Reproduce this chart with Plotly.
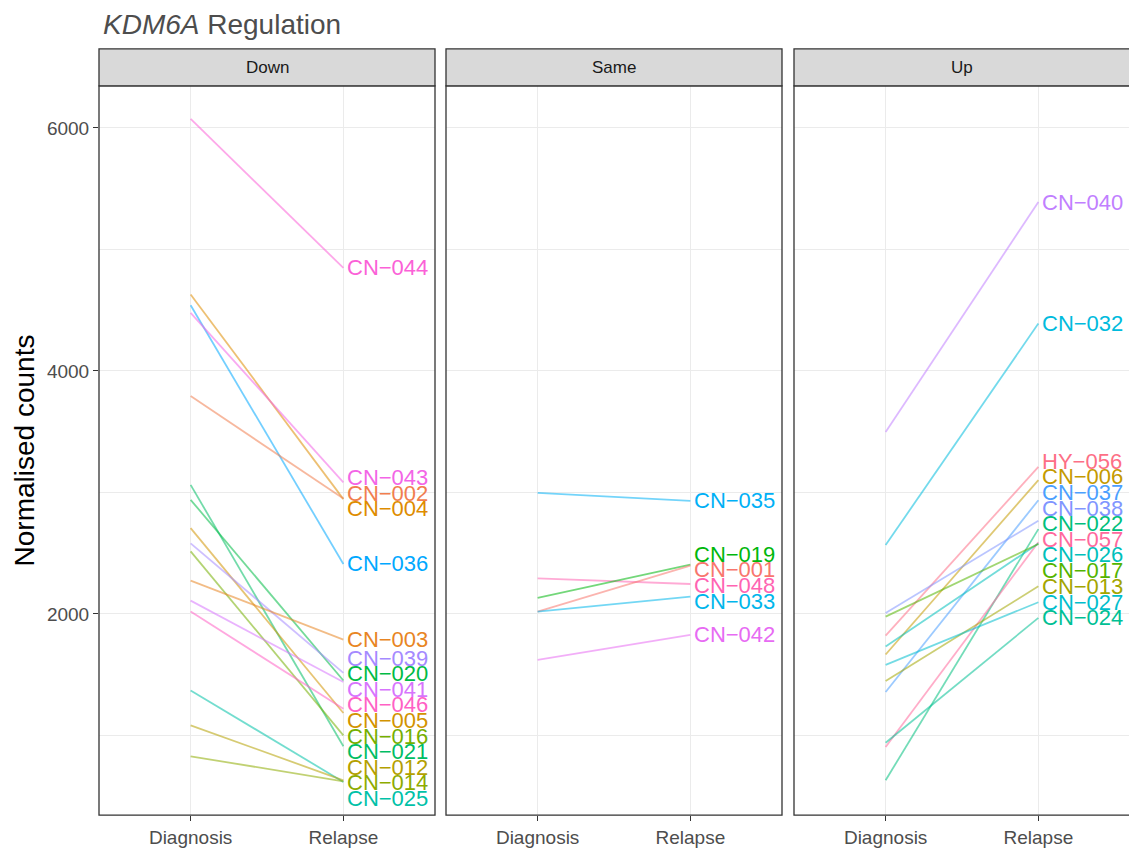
import math
import plotly.graph_objects as go

# ---------------- data ----------------
timepoints = ["Diagnosis", "Relapse"]
panels = ["Down", "Same", "Up"]

down_ids = ["CN-044", "CN-004", "CN-036", "CN-043", "CN-002", "CN-021", "CN-020", "CN-005",
            "CN-039", "CN-016", "CN-003", "CN-041", "CN-046", "CN-025", "CN-012", "CN-014"]
down_diag = [6074, 4629, 4541, 4478, 3793, 3062, 2939, 2706, 2581, 2515, 2274, 2109, 2019, 1370, 1083, 828]
down_relapse = [4848, 2945, 2411, 3082, 2950, 910, 1452, 1184, 1515, 1000, 1789, 1439, 1220, 617, 630, 622]

same_ids = ["CN-035", "CN-048", "CN-019", "CN-001", "CN-033", "CN-042"]
same_diag = [2996, 2293, 2131, 2019, 2019, 1622]
same_relapse = [2931, 2246, 2405, 2397, 2142, 1828]

up_ids = ["CN-040", "CN-032", "HY-056", "CN-006", "CN-037", "CN-038", "CN-022", "CN-057",
          "CN-026", "CN-017", "CN-013", "CN-027", "CN-024"]
up_diag = [3498, 2567, 1822, 1666, 1357, 2008, 631, 905, 1731, 1978, 1447, 1581, 940]
up_relapse = [5390, 4390, 3210, 3101, 2936, 2767, 2698, 2590, 2580, 2575, 2227, 2096, 1967]

y_ticks = [2000, 4000, 6000]
title_italic = "KDM6A"
title_rest = " Regulation"
y_title = "Normalised counts"

# ---------------- colours (ggplot2 hue palette) ----------------
def hcl_hex(h, c=100.0, l=65.0):
    hr = math.radians(h)
    u, v = c * math.cos(hr), c * math.sin(hr)
    Xn, Yn, Zn = 95.047, 100.0, 108.883
    Y = Yn * (((l + 16) / 116) ** 3 if l > 8 else l / 903.3)
    den = Xn + 15 * Yn + 3 * Zn
    un, vn = 4 * Xn / den, 9 * Yn / den
    up = u / (13 * l) + un
    vp = v / (13 * l) + vn
    X = 9.0 * Y * up / (4 * vp)
    Z = Y * (12 - 3 * up - 20 * vp) / (4 * vp)
    X, Y, Z = X / 100, Y / 100, Z / 100
    rl = 3.240479 * X - 1.537150 * Y - 0.498535 * Z
    gl = -0.969256 * X + 1.875992 * Y + 0.041556 * Z
    bl = 0.055648 * X - 0.204043 * Y + 1.057311 * Z

    def gam(t):
        t = 12.92 * t if t <= 0.0031308 else 1.055 * t ** (1 / 2.4) - 0.055
        return max(0, min(255, round(t * 255)))
    return "#%02X%02X%02X" % (gam(rl), gam(gl), gam(bl))

all_ids = sorted(down_ids + same_ids + up_ids)
n_lv = len(all_ids)
color_of = {s: hcl_hex(15 + 360 * i / n_lv) for i, s in enumerate(all_ids)}


def rgba(hexc, a):
    r, g, b = int(hexc[1:3], 16), int(hexc[3:5], 16), int(hexc[5:7], 16)
    return f"rgba({r},{g},{b},{a})"


def repel(vals, gap):
    n = len(vals)
    order = sorted(range(n), key=lambda i: vals[i])
    clusters = [[i] for i in order]

    def start(cl):
        m = sum(vals[i] for i in cl) / len(cl)
        return m - gap * (len(cl) - 1) / 2

    merged = True
    while merged:
        merged = False
        for k in range(len(clusters) - 1):
            a, b = clusters[k], clusters[k + 1]
            if start(b) - (start(a) + gap * (len(a) - 1)) < gap:
                clusters[k] = a + b
                del clusters[k + 1]
                merged = True
                break
    out = [0.0] * n
    for cl in clusters:
        s = start(cl)
        for j, i in enumerate(cl):
            out[i] = s + j * gap
    return out


# ---------------- figure ----------------
W, H = 1129, 848
panel_px = [(99, 435), (446, 782), (794, 1130)]
top_px, bot_px = 86, 817
strip_top = 49

fig = go.Figure()
groups = [(down_ids, down_diag, down_relapse),
          (same_ids, same_diag, same_relapse),
          (up_ids, up_diag, up_relapse)]

all_vals = down_diag + down_relapse + same_diag + same_relapse + up_diag + up_relapse
vmin, vmax = min(all_vals), max(all_vals)
pad = 0.05 * (vmax - vmin)
y_range = [vmin - pad, vmax + pad]

label_font = "Liberation Sans, Arial, Helvetica, sans-serif"
gap_units = 128

annotations = []
for p, (ids, dg, rl) in enumerate(groups):
    xa = "x" if p == 0 else f"x{p + 1}"
    ya = "y" if p == 0 else f"y{p + 1}"
    for s, a, b in zip(ids, dg, rl):
        fig.add_trace(go.Scatter(
            x=timepoints, y=[a, b], mode="lines", xaxis=xa, yaxis=ya,
            line=dict(color=rgba(color_of[s], 0.55), width=1.8),
            showlegend=False, hoverinfo="skip"))
    ly = repel(rl, gap_units)
    for s, yv in zip(ids, ly):
        annotations.append(dict(
            text=s.replace("-", "\u2212"), x=timepoints[1], y=yv, xref=xa, yref=ya,
            xanchor="left", yanchor="middle", xshift=2, showarrow=False,
            font=dict(size=22, family=label_font, color=color_of[s])))

layout = dict(
    width=W, height=H, margin=dict(l=0, r=0, t=0, b=0),
    paper_bgcolor="white", plot_bgcolor="white",
    font=dict(family=label_font),
    showlegend=False,
)

ydom = [(H - bot_px) / H, (H - top_px) / H]
shapes = []
for p in range(3):
    x0, x1 = panel_px[p]
    sfx = "" if p == 0 else str(p + 1)
    dom = [x0 / W, min(1.0, x1 / W)]
    layout["xaxis" + sfx] = dict(
        domain=dom, type="category", categoryorder="array", categoryarray=timepoints,
        range=[-0.6, -0.6 + 2.2 * (dom[1] - dom[0]) * W / (x1 - x0)],
        showgrid=True, gridcolor="#EBEBEB", gridwidth=1.1, zeroline=False,
        ticks="outside", ticklen=5, tickwidth=1.1, tickcolor="#333333",
        tickfont=dict(size=19, color="#4D4D4D", family=label_font),
        showline=False, anchor="y" + sfx, fixedrange=True)
    layout["yaxis" + sfx] = dict(
        domain=ydom, range=y_range, tickvals=y_ticks,
        showgrid=True, gridcolor="#EBEBEB", gridwidth=1.1, zeroline=False,
        minor=dict(dtick=1000, tick0=0, showgrid=True, gridcolor="#EBEBEB", gridwidth=0.6, ticks=""),
        ticks="outside" if p == 0 else "", ticklen=5, tickwidth=1.1, tickcolor="#333333",
        showticklabels=(p == 0),
        tickfont=dict(size=19, color="#4D4D4D", family=label_font),
        showline=False, anchor="x" + sfx, fixedrange=True)
    if p > 0:
        layout["yaxis" + sfx]["matches"] = "y"
    # panel border
    shapes.append(dict(type="rect", xref="paper", yref="paper",
                       x0=x0 / W, x1=x1 / W, y0=ydom[0], y1=ydom[1],
                       line=dict(color="#333333", width=1.3), fillcolor="rgba(0,0,0,0)", layer="above"))
    # strip
    shapes.append(dict(type="rect", xref="paper", yref="paper",
                       x0=x0 / W, x1=x1 / W, y0=(H - top_px) / H, y1=(H - strip_top) / H,
                       line=dict(color="#333333", width=1.3), fillcolor="#D9D9D9", layer="above"))
    annotations.append(dict(text=panels[p], xref="paper", yref="paper",
                            x=(x0 + x1) / 2 / W, y=(H - (strip_top + top_px) / 2) / H,
                            xanchor="center", yanchor="middle", showarrow=False,
                            font=dict(size=17, color="#1A1A1A", family=label_font)))

annotations.append(dict(text=f"<i>{title_italic}</i>{title_rest}", xref="paper", yref="paper",
                        x=101 / W, y=(H - 25) / H, xanchor="left", yanchor="middle", showarrow=False,
                        font=dict(size=28, color="#4D4D4D", family=label_font)))
annotations.append(dict(text=y_title, xref="paper", yref="paper", textangle=-90,
                        x=24 / W, y=(H - (top_px + bot_px) / 2) / H, xanchor="center", yanchor="middle",
                        showarrow=False, font=dict(size=28, color="black", family=label_font)))

layout["shapes"] = shapes
layout["annotations"] = annotations
fig.update_layout(**layout)
fig.write_html("out.html")
